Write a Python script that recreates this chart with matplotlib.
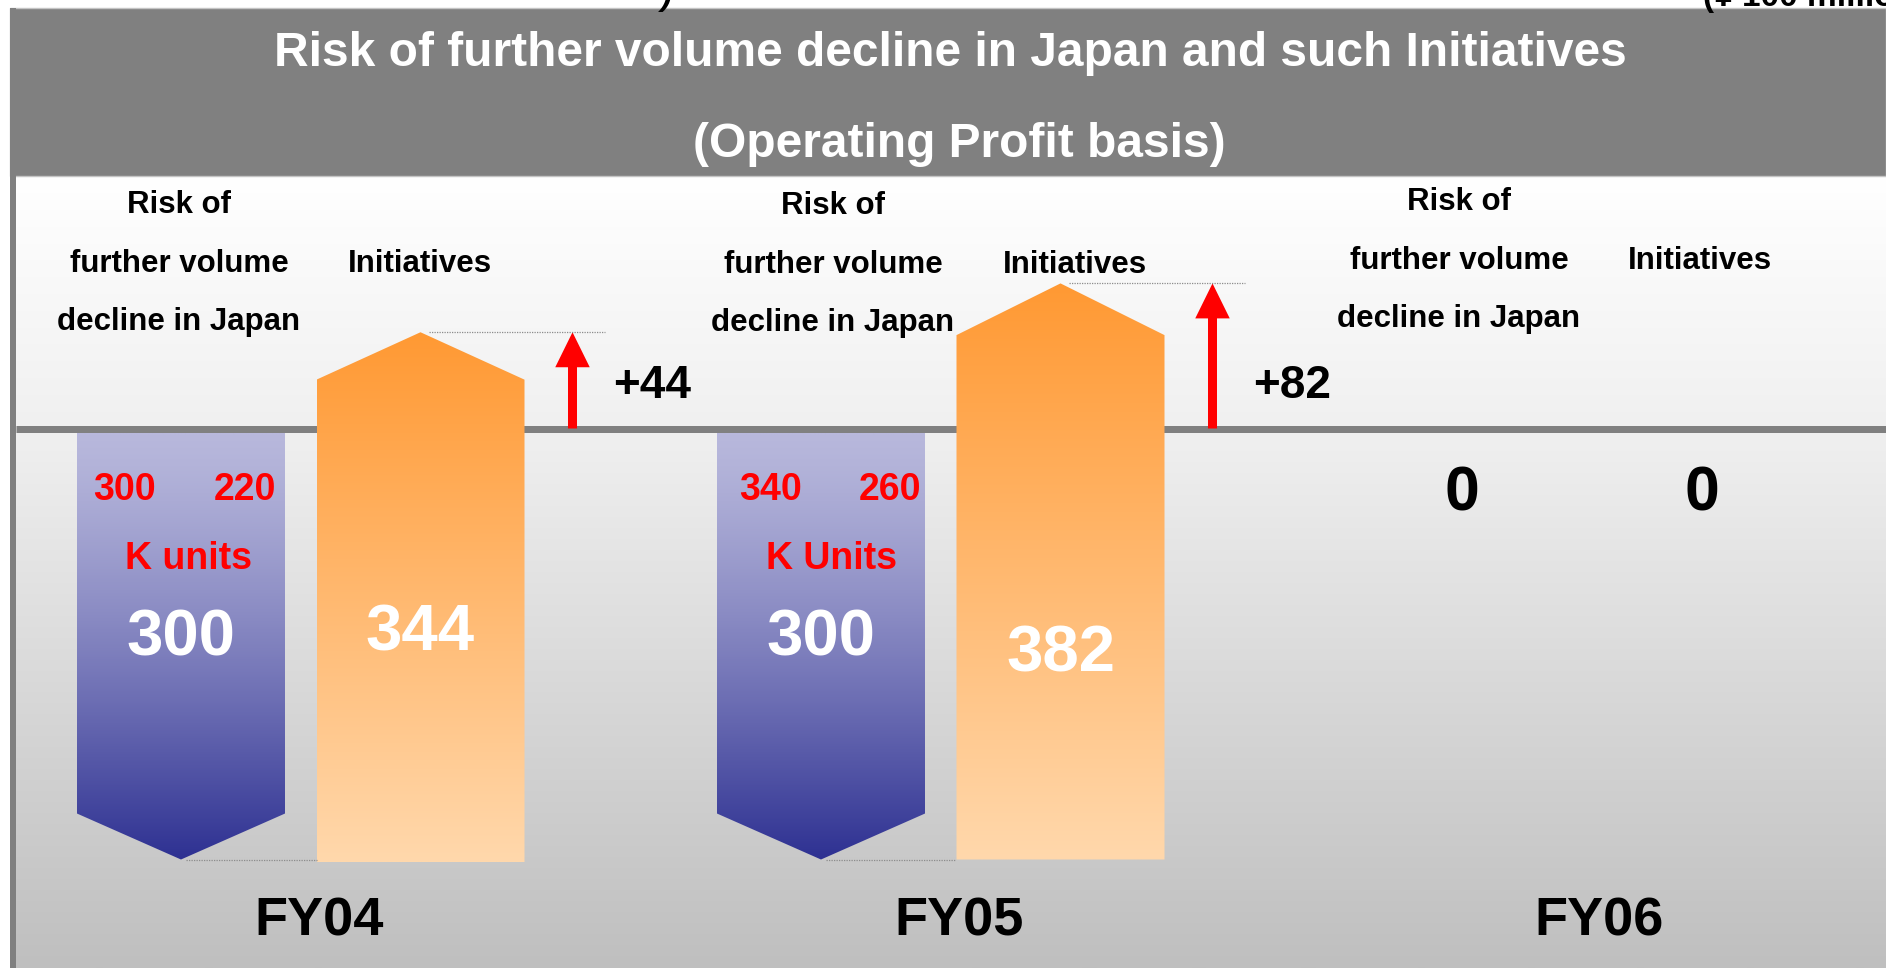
import numpy as np
import matplotlib.pyplot as plt
from matplotlib.colors import LinearSegmentedColormap
from matplotlib.patches import Polygon, Rectangle

plt.rcParams['font.family'] = ['Liberation Sans', 'DejaVu Sans']
plt.rcParams['font.weight'] = 'bold'

# ---- data ----
years = ["FY04", "FY05", "FY06"]
risk = [300, 300, 0]            # risk of further volume decline
initiatives = [344, 382, 0]     # initiatives
gain = ["+44", "+82"]
range_hi = ["300", "340"]
range_lo = ["220", "260"]
unit_labels = ["K units", "K Units"]
header = ["Risk of", "further volume", "decline in Japan"]

# outline of the arrow shapes (chart units, baseline = 0)
risk_shoulder = [268, 268]
init_peak = [67, 101]
init_shoulder = [34, 65]
init_base = [302, 300]

# ---- layout (pixels of the 1886x968 slide) ----
W, H = 1886, 968
GROUP_PX = 640.0
Y_PX = 431.0 / 300
BASE_PX = 428.5
X0_PX = 300.75


def fx(px):
    return (px - X0_PX) / GROUP_PX


def fy(px):
    return (BASE_PX - px) / Y_PX


def dx(px):
    return px / GROUP_PX


def dy(px):
    return px / Y_PX


fig = plt.figure(figsize=(W / 100, H / 100), dpi=100)
ax = fig.add_axes([0, 0, 1, 1])
ax.set_axis_off()


def vgrad(x0, x1, y0, y1, c_top, c_bot, clip=None, z=0, gamma=1.0):
    """vertical gradient, top colour at y1"""
    cmap = LinearSegmentedColormap.from_list('g', [c_top, c_bot])
    g = np.linspace(0, 1, 256)[:, None] ** gamma
    im = ax.imshow(g, extent=[x0, x1, y0, y1], origin='upper', cmap=cmap,
                   vmin=0, vmax=1, aspect='auto', interpolation='bilinear', zorder=z)
    if clip is not None:
        im.set_clip_path(clip)
    return im


# backgrounds
vgrad(fx(16), fx(W), 0, fy(176), '#ffffff', '#f0f0f0', z=0)
vgrad(fx(16), fx(W), fy(H), 0, '#f0f0f0', '#bfbfbf', z=0)
ax.add_patch(Rectangle((fx(10), fy(176)), fx(W) - fx(10), fy(8.3) - fy(176),
                       fc='#808080', ec='#c4c4c4', lw=1, zorder=1))
ax.add_patch(Rectangle((fx(10), fy(H)), dx(6), fy(8.3) - fy(H), fc='#808080', ec='none', zorder=1))
ax.plot([fx(16), fx(W)], [0, 0], color='#808080', lw=7 * 0.72, solid_capstyle='butt', zorder=2)

# titles
ax.text(fx(950), fy(66), "Risk of further volume decline in Japan and such Initiatives",
        ha='center', va='baseline', color='white', size=34.5, zorder=5)
ax.text(fx(959), fy(156.7), "(Operating Profit basis)",
        ha='center', va='baseline', color='white', size=34.5, zorder=5)
# fragments of the slide's line above, cut by the top edge
ax.text(fx(672), fy(5), ")", ha='right', va='baseline', color='black', size=24,
        style='italic', zorder=5)
ax.text(fx(1703), fy(6), "(\u00a5 100 million)", ha='left', va='baseline', color='black',
        size=24, zorder=5)

x = np.arange(len(years))
bx = x - dx(119.75)
ox = x + dx(119.75)
hw = dx(104)
header_dx = [-2, 12, -2]
header_dy = [0, 1, -3]
init_dx = [-1, 14, -1]

for i in range(len(years)):
    # column headers
    for k, line in enumerate(header):
        ax.text(bx[i] + dx(header_dx[i]), fy(213.3 + 58.3 * k + header_dy[i]), line,
                ha='center', va='baseline', size=22.5, zorder=5)
    ax.text(ox[i] + dx(init_dx[i]), fy(271.7 + header_dy[i]), "Initiatives",
            ha='center', va='baseline', size=22.5, zorder=5)
    ax.text(bx[i] + dx(138), fy(936), years[i], ha='center', va='baseline', size=39, zorder=5)

    if risk[i] > 0:
        verts = [(bx[i] - hw, 0), (bx[i] + hw, 0), (bx[i] + hw, -risk_shoulder[i]),
                 (bx[i], -risk[i]), (bx[i] - hw, -risk_shoulder[i])]
        p = Polygon(verts, closed=True, fc='none', ec='none')
        ax.add_patch(p)
        vgrad(bx[i] - hw, bx[i] + hw, -risk[i], 0, '#b8b8dc', '#2e3192', clip=p, z=1, gamma=1.3)
    else:
        ax.text(bx[i] + dx(1), fy(510), str(risk[i]), ha='center', va='baseline', size=45, zorder=5)

    if initiatives[i] > 0:
        verts = [(ox[i] - hw, -init_base[i]), (ox[i] + hw, -init_base[i]),
                 (ox[i] + hw, init_shoulder[i]), (ox[i], init_peak[i]),
                 (ox[i] - hw, init_shoulder[i])]
        p = Polygon(verts, closed=True, fc='none', ec='none')
        ax.add_patch(p)
        vgrad(ox[i] - hw, ox[i] + hw, -init_base[i], init_peak[i], '#ff9933', '#ffd8ac', clip=p, z=3)
    else:
        ax.text(ox[i] + dx(1), fy(510), str(initiatives[i]), ha='center', va='baseline', size=45, zorder=5)

# details for the years with shapes
big_dy = [655, 655]
init_lbl_dy = [650.7, 671.7]
hi_dx = [-56.5, -50.5]
lo_dx = [63.5, 69]
unit_dx = [7.5, 10]
for i in range(len(gain)):
    ax.text(bx[i] + dx(hi_dx[i]), fy(500), range_hi[i], ha='center', va='baseline',
            color='#ff0000', size=27, zorder=5)
    ax.text(bx[i] + dx(lo_dx[i]), fy(500), range_lo[i], ha='center', va='baseline',
            color='#ff0000', size=27, zorder=5)
    ax.text(bx[i] + dx(unit_dx[i]), fy(569.3), unit_labels[i], ha='center', va='baseline',
            color='#ff0000', size=27, zorder=5)
    ax.text(bx[i], fy(big_dy[i]), str(risk[i]), ha='center', va='baseline',
            color='white', size=47, zorder=5)
    ax.text(ox[i], fy(init_lbl_dy[i]), str(initiatives[i]), ha='center', va='baseline',
            color='white', size=47, zorder=5)

    # arrow showing the net gain
    ax_c = ox[i] + dx(152)
    sw, hh, hl = dx(4.5), dx(17.25), dy(35)
    top = init_peak[i]
    arrow = [(ax_c - sw, 0), (ax_c - sw, top - hl), (ax_c - hh, top - hl), (ax_c, top),
             (ax_c + hh, top - hl), (ax_c + sw, top - hl), (ax_c + sw, 0)]
    ax.add_patch(Polygon(arrow, closed=True, fc='#ff0000', ec='none', zorder=4))
    ax.text(ax_c + dx(80), fy(397.5), gain[i], ha='center', va='baseline', size=33, zorder=5)

    # dotted guides
    ax.plot([ox[i] + dx(8), ax_c + dx(32)], [top, top], color='#8c8c8c',
            lw=0.9, ls=(0, (1, 1)), zorder=4)
    ax.plot([bx[i] + dx(5), ox[i] - hw], [-risk[i], -risk[i]], color='#8c8c8c',
            lw=0.9, ls=(0, (1, 1)), zorder=4)

ax.set_xlim(fx(0), fx(W))
ax.set_ylim(fy(H), fy(0))

fig.savefig('out.png', dpi=100)
